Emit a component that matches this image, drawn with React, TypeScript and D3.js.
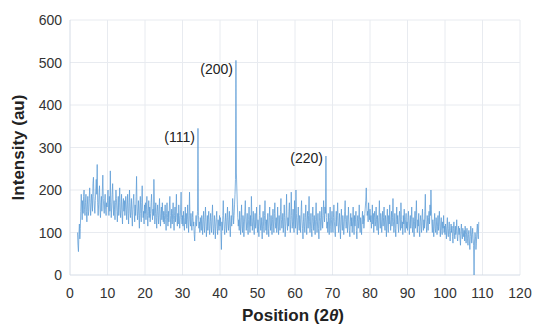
import React, { useRef, useEffect } from "react";
import * as d3 from "d3";

// scan grid: 2.000 .. 109.000 deg, 0.125 step
const startPos = 2;
const stepPos = 0.125;

// intensity readings, one row per 5 degrees
const intensity = [
  // 2 - 5
  100, 70, 55, 95, 120, 85, 110, 150, 190, 160, 130, 175, 145, 185, 200, 155, 140, 170, 190, 150, 125, 165, 185, 140,
  // 5 - 10
  150, 180, 205, 170, 140, 160, 190, 175, 150, 215, 230, 185, 160, 145, 175, 200, 225, 190, 260, 170,
  140, 165, 195, 210, 155, 135, 170, 185, 150, 200, 235, 180, 160, 145, 175, 190, 155, 140, 170, 160,
  // 10 - 15
  175, 200, 160, 140, 185, 150, 245, 170, 135, 160, 190, 215, 165, 140, 175, 155, 130, 170, 200, 180,
  150, 125, 160, 185, 140, 170, 205, 155, 135, 160, 190, 145, 120, 165, 180, 150, 175, 140, 160, 185,
  // 15 - 20
  155, 130, 165, 190, 145, 120, 170, 200, 150, 135, 160, 180, 140, 115, 155, 175, 190, 150, 125, 165,
  140, 185, 232, 160, 130, 150, 175, 140, 110, 160, 185, 145, 125, 170, 210, 155, 135, 150, 120, 165,
  // 20 - 25
  145, 170, 130, 155, 185, 140, 115, 150, 175, 135, 160, 125, 145, 170, 190, 150, 130, 155, 140, 225,
  165, 120, 145, 170, 135, 110, 150, 165, 140, 120, 155, 180, 135, 115, 145, 160, 130, 170, 140, 125,
  // 25 - 30
  150, 120, 140, 165, 130, 105, 145, 170, 135, 115, 150, 125, 160, 185, 140, 110, 130, 155, 120, 145,
  170, 130, 105, 140, 160, 125, 150, 190, 135, 115, 145, 120, 165, 140, 110, 130, 155, 195, 135, 120,
  // 30 - 35
  140, 115, 150, 125, 105, 135, 160, 120, 145, 110, 130, 165, 125, 100, 140, 195, 130, 115, 145, 120,
  105, 135, 150, 115, 125, 95, 80, 110, 125, 140, 115, 130, 150, 345, 140, 110, 125, 100, 135, 120,
  // 35 - 40
  105, 140, 120, 95, 130, 150, 115, 100, 135, 160, 125, 90, 115, 140, 105, 130, 150, 110, 95, 125,
  145, 115, 100, 135, 165, 120, 95, 110, 140, 125, 85, 115, 135, 150, 110, 95, 130, 120, 105, 140,
  // 40 - 45
  115, 135, 100, 60, 125, 105, 140, 175, 130, 110, 95, 125, 145, 115, 100, 135, 160, 120, 105, 130,
  150, 110, 90, 125, 140, 115, 135, 180, 150, 120, 140, 165, 190, 225, 505, 240, 200, 165, 135, 115,
  // 45 - 50
  130, 105, 150, 120, 95, 135, 165, 115, 100, 140, 125, 90, 120, 150, 175, 130, 105, 125, 145, 110,
  95, 130, 160, 120, 100, 140, 115, 185, 135, 105, 125, 150, 115, 95, 130, 145, 110, 125, 160, 120,
  // 50 - 55
  100, 130, 115, 90, 140, 165, 120, 105, 135, 110, 85, 125, 150, 115, 100, 140, 175, 125, 105, 130,
  95, 120, 145, 110, 90, 135, 160, 120, 105, 140, 115, 95, 130, 155, 120, 100, 145, 170, 125, 110,
  // 55 - 60
  135, 100, 120, 160, 115, 95, 140, 125, 105, 150, 180, 130, 110, 125, 145, 100, 120, 165, 135, 90,
  115, 140, 190, 125, 105, 135, 115, 150, 170, 120, 100, 130, 195, 140, 110, 125, 155, 115, 100, 175,
  // 60 - 65
  130, 110, 200, 145, 115, 95, 135, 160, 120, 105, 140, 125, 100, 150, 175, 130, 110, 85, 125, 145,
  115, 100, 135, 165, 120, 95, 130, 150, 110, 140, 185, 125, 100, 120, 145, 110, 90, 135, 160, 125,
  // 65 - 70
  105, 140, 115, 95, 130, 170, 125, 100, 120, 145, 110, 85, 125, 150, 135, 105, 120, 160, 130, 110,
  140, 175, 150, 125, 160, 145, 280, 135, 110, 125, 100, 145, 120, 95, 135, 160, 115, 100, 130, 150,
  // 70 - 75
  120, 100, 135, 165, 125, 105, 90, 130, 150, 115, 140, 170, 125, 100, 120, 145, 110, 85, 130, 155,
  120, 105, 140, 125, 95, 115, 150, 175, 130, 110, 125, 140, 100, 120, 160, 130, 105, 90, 125, 145,
  // 75 - 80
  115, 135, 100, 125, 160, 120, 95, 140, 115, 130, 150, 105, 85, 125, 140, 110, 130, 165, 120, 100,
  135, 115, 95, 130, 150, 120, 140, 110, 125, 145, 160, 175, 205, 165, 140, 150, 125, 170, 145, 130,
  // 80 - 85
  155, 125, 140, 110, 130, 165, 120, 145, 100, 135, 150, 115, 125, 160, 130, 105, 140, 120, 95, 135,
  175, 125, 110, 145, 130, 100, 125, 150, 115, 135, 160, 120, 105, 140, 125, 90, 130, 155, 115, 100,
  // 85 - 90
  140, 120, 165, 130, 105, 125, 150, 115, 135, 180, 125, 100, 120, 145, 110, 90, 130, 160, 120, 140,
  115, 100, 135, 150, 125, 105, 170, 130, 110, 125, 95, 140, 120, 155, 115, 100, 130, 145, 110, 125,
  // 90 - 95
  105, 135, 150, 120, 95, 125, 140, 110, 130, 160, 115, 100, 135, 120, 90, 125, 150, 110, 140, 175,
  120, 100, 130, 115, 145, 105, 90, 125, 140, 115, 100, 135, 155, 120, 105, 130, 110, 150, 190, 130,
  // 95 - 100
  115, 100, 140, 125, 105, 135, 150, 120, 165, 140, 200, 155, 120, 100, 130, 115, 90, 125, 145, 110,
  100, 135, 120, 95, 115, 140, 105, 125, 150, 115, 90, 120, 135, 105, 95, 125, 110, 140, 100, 115,
  // 100 - 105
  95, 120, 105, 85, 115, 135, 100, 90, 110, 125, 95, 80, 105, 120, 100, 115, 90, 75, 110, 125,
  100, 85, 115, 95, 105, 130, 90, 80, 100, 115, 95, 110, 85, 70, 105, 120, 95, 85, 110, 100,
  // 105 - 109
  90, 105, 80, 115, 95, 75, 100, 110, 85, 70, 95, 105, 80, 60, 90, 115, 100, 75, 95, 110,
  85, 70, 0, 80, 100, 90, 60, 75, 105, 120, 95, 85, 125,
];

const xTicks = [0, 10, 20, 30, 40, 50, 60, 70, 80, 90, 100, 110, 120];
const yTicks = [0, 100, 200, 300, 400, 500, 600];

// label anchor: peak position, label baseline level (au)
const peakLabels = [
  { text: "(111)", pos: 34.125, value: 345, level: 313 },
  { text: "(200)", pos: 44.25, value: 505, level: 473 },
  { text: "(220)", pos: 68.25, value: 280, level: 263 },
];

const App = () => {
  const svgRef = useRef<SVGSVGElement>(null);

  useEffect(() => {
    const width = 534,
      height = 325;
    const margin = { top: 20, right: 14, bottom: 50, left: 70 };
    const innerW = width - margin.left - margin.right;
    const innerH = height - margin.top - margin.bottom;

    d3.select(svgRef.current).selectAll("*").remove();

    const svg = d3
      .select(svgRef.current)
      .attr("width", width)
      .attr("height", height)
      .style("display", "block")
      .style("font-family", "'Liberation Sans', Arial, sans-serif");

    const g = svg
      .append("g")
      .attr("transform", `translate(${margin.left},${margin.top})`);

    const x = d3.scaleLinear().domain([0, 120]).range([0, innerW]);
    const y = d3.scaleLinear().domain([0, 600]).range([innerH, 0]);

    // gridlines
    g.append("g")
      .selectAll("line")
      .data(xTicks.slice(1))
      .enter()
      .append("line")
      .attr("x1", (d) => x(d))
      .attr("x2", (d) => x(d))
      .attr("y1", 0)
      .attr("y2", innerH)
      .attr("stroke", "#e8ebf0")
      .attr("stroke-width", 1);

    g.append("g")
      .selectAll("line")
      .data(yTicks.slice(1))
      .enter()
      .append("line")
      .attr("x1", 0)
      .attr("x2", innerW)
      .attr("y1", (d) => y(d))
      .attr("y2", (d) => y(d))
      .attr("stroke", "#e8ebf0")
      .attr("stroke-width", 1);

    // axis lines
    g.append("line")
      .attr("x1", 0)
      .attr("x2", innerW)
      .attr("y1", innerH)
      .attr("y2", innerH)
      .attr("stroke", "#d5dce6");
    g.append("line")
      .attr("x1", 0)
      .attr("x2", 0)
      .attr("y1", 0)
      .attr("y2", innerH)
      .attr("stroke", "#d5dce6");

    // tick labels
    g.append("g")
      .selectAll("text")
      .data(xTicks)
      .enter()
      .append("text")
      .attr("x", (d) => x(d))
      .attr("y", innerH + 23)
      .attr("text-anchor", "middle")
      .attr("font-size", 14)
      .attr("fill", "#333")
      .text((d) => d);

    g.append("g")
      .selectAll("text")
      .data(yTicks)
      .enter()
      .append("text")
      .attr("x", -8)
      .attr("y", (d) => y(d) + 5)
      .attr("text-anchor", "end")
      .attr("font-size", 14)
      .attr("fill", "#333")
      .text((d) => d);

    // pattern line
    const line = d3
      .line<number>()
      .x((d, i) => x(startPos + i * stepPos))
      .y((d) => y(d));

    g.append("path")
      .datum(intensity)
      .attr("d", line)
      .attr("fill", "none")
      .attr("stroke", "#5b9bd5")
      .attr("stroke-width", 0.75)
      .attr("stroke-linejoin", "round");

    // peak labels
    g.append("g")
      .selectAll("text")
      .data(peakLabels)
      .enter()
      .append("text")
      .attr("x", (d) => x(d.pos) - 3)
      .attr("y", (d) => y(d.level))
      .attr("text-anchor", "end")
      .attr("font-size", 14)
      .attr("fill", "#222")
      .text((d) => d.text);

    // axis titles
    svg
      .append("text")
      .attr("transform", `translate(24,${margin.top + innerH / 2}) rotate(-90)`)
      .attr("text-anchor", "middle")
      .attr("font-size", 17)
      .attr("font-weight", "bold")
      .attr("fill", "#222")
      .text("Intensity (au)");

    const xt = svg
      .append("text")
      .attr("x", margin.left + x(60) - 2)
      .attr("y", 321)
      .attr("text-anchor", "middle")
      .attr("font-size", 17)
      .attr("font-weight", "bold")
      .attr("fill", "#222");
    xt.append("tspan").text("Position (2");
    xt.append("tspan").attr("font-style", "italic").text("θ");
    xt.append("tspan").text(")");
  }, []);

  return <svg ref={svgRef}></svg>;
};

export default function Root() {
  return (
    <div style={{ position: "fixed", left: 0, top: 0, width: 534, height: 325, background: "#fff" }}>
      <App />
    </div>
  );
}
